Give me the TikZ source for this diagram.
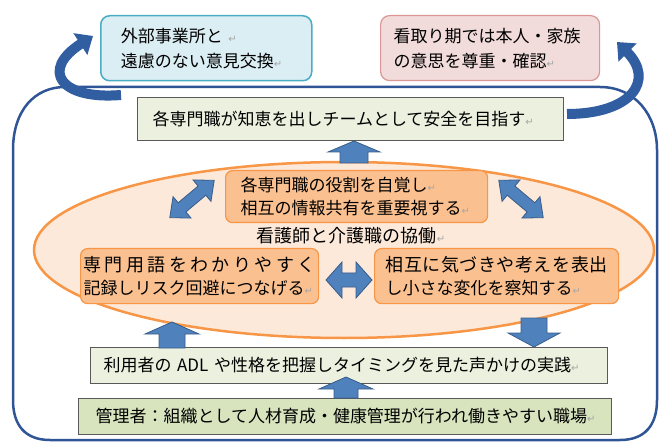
\documentclass[tikz,border=0pt]{standalone}
\usepackage{fontspec}
\setmainfont{Noto Sans CJK JP}
\newfontfamily\symf{DejaVu Sans}
\usetikzlibrary{arrows.meta,shapes.geometric}
\definecolor{frameblue}{RGB}{47,85,151}
\definecolor{curvblue}{RGB}{49,94,160}
\definecolor{blkfill}{RGB}{79,129,189}
\definecolor{blkedge}{RGB}{56,93,138}
\definecolor{lbfill}{RGB}{219,238,244}
\definecolor{lbedge}{RGB}{75,172,198}
\definecolor{pkfill}{RGB}{242,220,219}
\definecolor{pkedge}{RGB}{217,150,148}
\definecolor{gnfill}{RGB}{235,241,222}
\definecolor{gnfill2}{RGB}{215,228,189}
\definecolor{boxedge}{RGB}{89,89,89}
\definecolor{elfill}{RGB}{253,233,217}
\definecolor{oredge}{RGB}{247,150,70}
\definecolor{orfill}{RGB}{250,192,144}
\definecolor{retgray}{RGB}{165,165,165}
\newcommand\rtn{{\symf\color{retgray}\fontsize{10}{10}\selectfont ↵}}
\newcommand\BlkV[6]{\path[blockarrow] (#1,#2) -- ({#1+#5},#3) -- ({#1+#6},#3) -- ({#1+#6},#4) -- ({#1-#6},#4) -- ({#1-#6},#3) -- ({#1-#5},#3) -- cycle;}
\newcommand\DblArr[4]{\path[blockarrow] (-#1,0) -- ({-#1+#2},-#3) -- ({-#1+#2},-#4) -- ({#1-#2},-#4) -- ({#1-#2},-#3) -- (#1,0) -- ({#1-#2},#3) -- ({#1-#2},#4) -- ({-#1+#2},#4) -- ({-#1+#2},#3) -- cycle;}
\begin{document}
\begin{tikzpicture}[x=1pt,y=-1pt,
  box/.style={anchor=north west, inner ysep=0pt, align=left, text=black,
    font=\fontsize{17}{25}\selectfont},
  bluebox/.style={box, draw=lbedge, fill=lbfill, line width=1.5pt, rounded corners=9pt},
  pinkbox/.style={box, draw=pkedge, fill=pkfill, line width=1.2pt, rounded corners=9pt},
  greenbox/.style={box, draw=boxedge, fill=gnfill, line width=1pt},
  greenbox2/.style={box, draw=boxedge, fill=gnfill2, line width=1pt},
  orbox/.style={box, draw=oredge, fill=orfill, line width=1.2pt, rounded corners=7pt,
    font=\fontsize{17}{23}\selectfont},
  blockarrow/.style={fill=blkfill, draw=blkedge, line width=0.8pt},
  curvarrow/.style={draw=curvblue, line width=10pt,
    -{Triangle[length=15pt,width=25pt]}},
  frame/.style={draw=frameblue, line width=2.5pt}]
\useasboundingbox (0,0) rectangle (663,443);
% outer frame
\draw[frame] (13,400) -- (13,150) .. controls (13,110) and (35,87) .. (65,87)
  -- (600,87) .. controls (635,87) and (657,115) .. (657,150)
  -- (657,400) .. controls (657,425) and (645,440) .. (620,440)
  -- (50,440) .. controls (25,440) and (13,425) .. (13,400) -- cycle;
% top boxes
\node[bluebox, minimum height=65pt, inner xsep=20pt, text width=171pt] (ext) at (100,15)
  {外部事業所と \rtn\\遠慮のない意見交換\rtn};
\node[pinkbox, minimum height=65pt, inner xsep=13pt, text width=193pt] (mitori) at (380,15)
  {看取り期では本人・家族\\の意思を尊重・確認\rtn};
% curved arrows
\coordinate (lt) at (121,95);
\coordinate (rt) at (567,114);
\draw[curvarrow] (lt) .. controls (60,100) and (40,70) .. (93,36);
\draw[curvarrow] (rt) .. controls (632,114) and (655,80) .. (617,42);
% team box
\node[greenbox, minimum height=43pt, inner xsep=15pt, text width=396pt] (team) at (137,97)
  {各専門職が知恵を出しチームとして安全を目指す\rtn};
% ellipse
\node[draw=oredge, fill=elfill, line width=2.5pt, ellipse, minimum width=620pt,
  minimum height=176pt, inner sep=0pt] (ell) at (344,250) {};
\BlkV{354}{141}{152}{163}{26}{14}
% inner boxes
\node[orbox, minimum height=52pt, inner xsep=15pt, text width=232pt] (role) at (225,170)
  {各専門職の役割を自覚し\rtn\\相互の情報共有を重要視する\rtn};
\node[font=\fontsize{18}{18}\selectfont] (title) at (351,236) {看護師と介護職の協働\rtn};
\node[orbox, minimum height=55pt, inner xsep=3pt, text width=232pt] (term) at (80,248)
  {\makebox[232pt][l]{\fontsize{18}{23}\selectfont 専\hfill 門\hfill 用\hfill 語\hfill を\hfill わ\hfill か\hfill り\hfill や\hfill す\hfill く}\\記録しリスク回避につなげる\rtn};
\node[orbox, minimum height=55pt, inner xsep=11pt, text width=222pt] (notice) at (374,248)
  {\makebox[222pt][l]{\fontsize{18}{23}\selectfont 相\hfill 互\hfill に\hfill 気\hfill づ\hfill き\hfill や\hfill 考\hfill え\hfill を\hfill 表\hfill 出}\\し小さな変化を察知する\rtn};
% diagonal and horizontal double arrows
\begin{scope}[shift={(192,199)},rotate=40]\DblArr{29}{16}{14}{6}\end{scope}
\begin{scope}[shift={(521,199)},rotate=-40]\DblArr{29}{16}{14}{6}\end{scope}
\begin{scope}[shift={(349,280)}]\DblArr{23}{16}{18}{7}\end{scope}
% bottom boxes
\node[greenbox, minimum height=36pt, inner xsep=13pt, text width=491pt] (adl) at (90,347)
  {利用者の ADL や性格を把握しタイミングを見た声かけの実践\rtn};
\BlkV{172}{322}{334}{348}{27}{13}
\BlkV{534}{347}{333}{318}{26}{13}
\node[greenbox2, minimum height=36pt, inner xsep=17pt, text width=499pt] (mgr) at (78,398)
  {管理者：組織として人材育成・健康管理が行われ働きやすい職場\rtn};
\BlkV{346}{377}{389}{398}{27}{12}
\end{tikzpicture}
\end{document}
